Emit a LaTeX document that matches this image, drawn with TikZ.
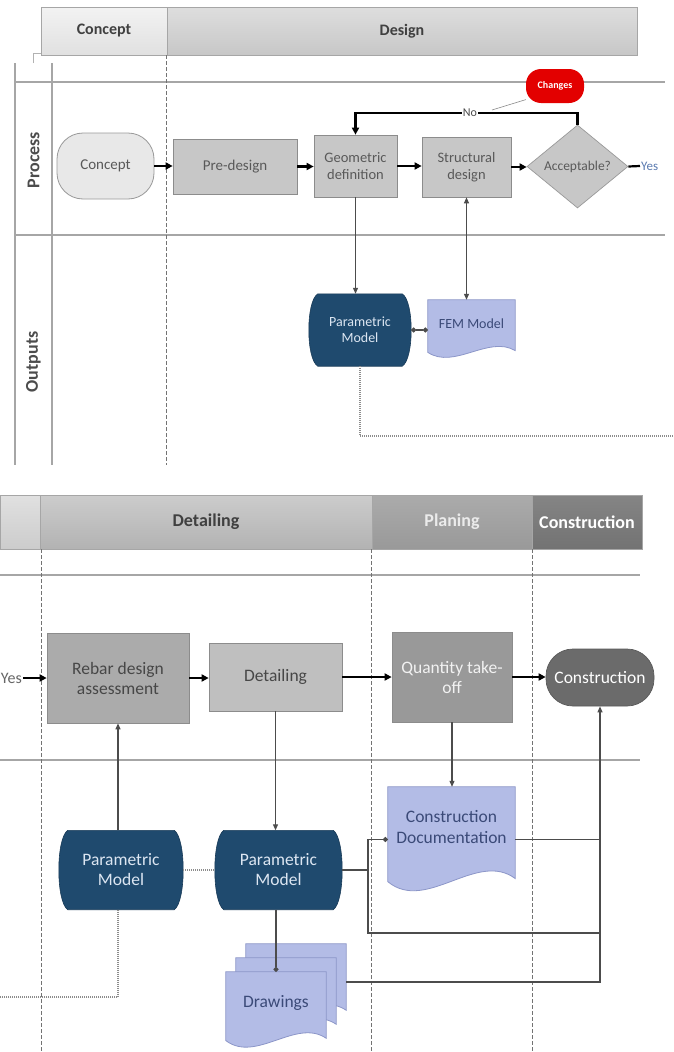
\documentclass[tikz,border=0pt]{standalone}
\usepackage{fontspec}
\setmainfont{Carlito}
\usetikzlibrary{arrows.meta,shapes.geometric,calc}
\pgfdeclarelayer{bg}
\pgfsetlayers{bg,main}
\definecolor{pmblue}{HTML}{1F4A6E}
\definecolor{pmtext}{HTML}{DCE6F2}
\definecolor{docfill}{HTML}{B3BCE6}
\definecolor{docline}{HTML}{8C96C8}
\definecolor{doctext}{HTML}{3B4A78}
\definecolor{changesred}{HTML}{E30000}
\definecolor{yesblue}{HTML}{5A7AB0}
\tikzset{
 hdr/.style={draw=black!35, line width=0.6pt, inner sep=0pt, text=black!75, font=\bfseries\fontsize{16}{18}\selectfont},
 hdrb/.style={hdr, minimum height=54, font=\bfseries\fontsize{18}{20}\selectfont},
 laneline/.style={draw=black!35, line width=1.2pt},
 framedash/.style={draw=black!55, line width=0.6pt, dash pattern=on 4pt off 2pt},
 procbox/.style={rectangle, draw=black!45, fill=black!22, line width=0.7pt, text=black!65, align=center, inner sep=1pt, font=\fontsize{15}{17}\selectfont},
 procboxb/.style={procbox, font=\fontsize{17.5}{20}\selectfont, text=black!72},
 conceptnode/.style={rectangle, rounded corners=26pt, minimum width=97, minimum height=66, fill=black!9, draw=black!40, line width=0.8pt, text=black!65, font=\fontsize{15}{17}\selectfont},
 pmnode/.style={rectangle, draw=none, text=pmtext, align=center, inner sep=1pt},
 pmbody/.style={fill=pmblue, draw=pmblue!80!black, line width=0.6pt},
 docnode/.style={rectangle, draw=none, inner sep=0pt},
 docbody/.style={fill=docfill, draw=docline, line width=0.8pt},
 doctxt/.style={text=doctext, align=center, inner sep=0pt},
 flowarrow/.style={draw=black, line width=2.2pt, -{Triangle[length=7pt,width=7pt]}},
 linkline/.style={draw=black!70, line width=1.1pt},
 linkarrow/.style={linkline, -{Triangle[length=6pt,width=5pt]}},
 dotlink/.style={draw=black!45, line width=1.3pt, dash pattern=on 1pt off 1pt},
}
\newcommand\docshape[1]{%
\path[docbody] let \p1=(#1.north west), \p2=(#1.south east), \n1={\x2-\x1}, \n2={\y1-\y2} in
(\x1,\y1) -- (\x2,\y1) -- (\x2,\y2+0.13*\n2) .. controls (\x2-0.3*\n1,\y2+0.4*\n2) and (\x1+0.3*\n1,\y2-0.2*\n2) .. (\x1,\y2+0.1*\n2) -- cycle;}
\newcommand\pmshape[1]{%
\path[pmbody] let \p1=(#1.north west), \p2=(#1.south east), \n2={\y1-\y2} in
(\x1+9pt,\y1) -- (\x2-9pt,\y1) .. controls (\x2+3pt,\y1-0.1*\n2) and (\x2+3pt,\y2+0.1*\n2) .. (\x2-9pt,\y2) -- (\x1+9pt,\y2) .. controls (\x1-3pt,\y2+0.1*\n2) and (\x1-3pt,\y1-0.1*\n2) .. (\x1+9pt,\y1) -- cycle;}
\begin{document}
\begin{tikzpicture}[x=1pt,y=-1pt]
\begin{pgfonlayer}{bg}
\fill[white] (0,0) rectangle (673,1052);
\end{pgfonlayer}
\path[use as bounding box] (0,0) rectangle (673,1052);

% ---------- top panel ----------
\node[hdr, top color=black!5, bottom color=black!12, minimum width=126, minimum height=48] (hconcept) at (104,31) {Concept};
\node[hdr, top color=black!13, bottom color=black!22, minimum width=470, minimum height=48] (hdesign) at (402,31) {Design};
\draw[draw=black!30, line width=0.6pt] (33,63) -- (33,53) -- (41,53);
\draw[laneline] (15,63) -- (15,465);
\draw[laneline] (52,63) -- (52,465);
\draw[laneline] (15,82) -- (665,82);
\draw[laneline] (15,235) -- (665,235);
\draw[framedash] (166,55) -- (166,465);
\node[rotate=90, text=black!70, font=\bfseries\fontsize{18}{20}\selectfont] (lproc) at (33.5,160) {Process};
\node[rotate=90, text=black!70, font=\bfseries\fontsize{18}{20}\selectfont] (lout) at (33.5,362) {Outputs};

\node[conceptnode] (concept) at (105.5,166) {Concept};
\node[procbox, minimum width=124, minimum height=55] (predesign) at (235,166.5) {Pre-design};
\node[procbox, minimum width=83, minimum height=62, font=\fontsize{14.5}{16.5}\selectfont] (geo) at (355.5,166) {Geometric\\definition};
\node[procbox, minimum width=89, minimum height=60, font=\fontsize{14.5}{16.5}\selectfont] (struct) at (466.5,167) {Structural\\design};
\node[diamond, draw=black!40, fill=black!22, line width=0.7pt, minimum width=101, minimum height=83, inner sep=0pt, text=black!65, font=\fontsize{13.5}{15}\selectfont] (accept) at (577.5,166.5) {Acceptable?};
\node[rectangle, rounded corners=15pt, fill=changesred, minimum width=58, minimum height=34, text=white, font=\bfseries\fontsize{10}{11}\selectfont] (changes) at (555,86) {Changes};
\node[anchor=west, text=yesblue, inner sep=1pt, font=\fontsize{13}{15}\selectfont] (yestop) at (640,166) {Yes};

\node[pmnode, minimum width=102, minimum height=72, font=\fontsize{14}{16}\selectfont] (pm0) at (360,330) {Parametric\\Model};
\node[docnode, minimum width=87, minimum height=58] (fem) at (471.5,329) {};
\begin{pgfonlayer}{bg}\pmshape{pm0}\docshape{fem}\end{pgfonlayer}
\node[doctxt, font=\fontsize{14}{16}\selectfont] (femtext) at (471.5,324) {FEM Model};

\draw[flowarrow] (concept.east) -- (concept.east -| predesign.west);
\draw[flowarrow] (predesign.east) -- (predesign.east -| geo.west);
\draw[flowarrow] (geo.east) -- (geo.east -| struct.west);
\draw[flowarrow] (struct.east) -- (struct.east -| accept.west);
\draw[draw=black, line width=2.2pt] (accept.east) -- (yestop.west);
\coordinate (nopt) at (470,113);
\draw[flowarrow] (accept.north) -- (accept.north |- nopt) -- (geo.north |- nopt) -- (geo.north);
\node[fill=white, inner sep=1pt, text=black!70, font=\fontsize{12}{14}\selectfont] (nolbl) at (nopt) {No};
\coordinate (callend) at (492,110);
\draw[draw=black!45, line width=0.6pt] (changes.205) -- (callend);

\draw[linkarrow] (geo.south) -- (geo.south |- pm0.north);
\draw[linkline, {Triangle[length=6pt,width=5pt]}-{Triangle[length=6pt,width=5pt]}] (struct.south) -- (struct.south |- fem.north);
\draw[linkline, {Circle[length=5pt]}-{Circle[length=5pt]}] (pm0.east) -- (pm0.east -| fem.west);
\coordinate (dotend1) at (673,436);
\draw[dotlink] (pm0.south) |- (dotend1);

% ---------- bottom panel ----------
\node[hdrb, top color=black!12, bottom color=black!20, minimum width=40] (hleft) at (20,522) {};
\node[hdrb, top color=black!20, bottom color=black!30, minimum width=332] (hdetail) at (206,522) {Detailing};
\node[hdrb, top color=black!33, bottom color=black!40, text=white!92!black, minimum width=160] (hplan) at (452,522) {Planing};
\node[hdrb, top color=black!48, bottom color=black!55, text=white, minimum width=110] (hcons) at (587,522) {Construction};
\draw[laneline] (0,575) -- (640,575);
\draw[laneline] (0,760) -- (640,760);
\draw[framedash] (41,549) -- (41,1052);
\draw[framedash] (371,549) -- (371,1052);
\draw[framedash] (532,549) -- (532,1052);

\node[anchor=east, text=black!60, inner sep=1pt, font=\fontsize{16}{18}\selectfont] (yesbot) at (23,678) {Yes};
\node[procboxb, fill=black!33, minimum width=142, minimum height=90] (rebar) at (118,678) {Rebar design\\assessment};
\node[procboxb, fill=black!25, minimum width=133, minimum height=68] (detbox) at (275.5,677) {Detailing};
\node[procboxb, fill=black!40, text=white!95!black, minimum width=120, minimum height=90] (qty) at (452,677) {Quantity take-\\off};
\node[rectangle, rounded corners=27pt, minimum width=108, minimum height=57, fill=black!58, draw=black!65, line width=0.7pt, text=white, font=\fontsize{17.5}{19}\selectfont] (cons) at (600,677.5) {Construction};

\node[pmnode, minimum width=124, minimum height=79, font=\fontsize{17.5}{20}\selectfont] (pm1) at (121,870) {Parametric\\Model};
\node[pmnode, minimum width=127, minimum height=79, font=\fontsize{17.5}{20}\selectfont] (pm2) at (278.5,870) {Parametric\\Model};

\node[docnode, minimum width=127, minimum height=105] (cdoc) at (451.5,839.5) {};
\node[docnode, minimum width=100, minimum height=76] (drawback) at (296,982) {};
\node[docnode, minimum width=100, minimum height=76] (drawmid) at (286,996) {};
\node[docnode, minimum width=100, minimum height=76] (drawfront) at (276,1010) {};
\begin{pgfonlayer}{bg}
\pmshape{pm1}
\pmshape{pm2}
\docshape{cdoc}
\docshape{drawback}
\docshape{drawmid}
\docshape{drawfront}
\end{pgfonlayer}
\node[doctxt, font=\fontsize{17.5}{21}\selectfont] (cdoctext) at (451.5,827) {Construction\\Documentation};
\node[doctxt, font=\fontsize{17.5}{20}\selectfont] (drawtext) at (276,1003) {Drawings};

\draw[flowarrow] (yesbot.east) -- (rebar.west);
\draw[flowarrow] (rebar.east) -- (rebar.east -| detbox.west);
\draw[flowarrow] (detbox.east) -- (detbox.east -| qty.west);
\draw[flowarrow] (qty.east) -- (qty.east -| cons.west);

\draw[linkarrow] (rebar.south |- pm1.north) -- (rebar.south);
\draw[linkarrow] (detbox.south) -- (detbox.south |- pm2.north);
\draw[dotlink] (pm1.east) -- (pm2.west);
\coordinate (dotend2) at (0,997);
\draw[dotlink] (rebar.south |- pm1.south) |- (dotend2);
\draw[linkarrow] (qty.south) -- (qty.south |- cdoc.north);

\coordinate (jx) at (368,933);
\draw[linkline, -{Circle[length=5pt]}] (pm2.east) -| (jx |- cdoc.west) -- (cdoc.west);
\draw[linkline] (pm2.east -| jx) -- (jx) -- (jx -| cons.south);
\draw[linkline] (cdoc.east) -- (cdoc.east -| cons.south);
\draw[linkarrow] (drawback.east) -| (cons.south);
\draw[linkline, -{Circle[length=5pt]}] (drawfront.north |- pm2.south) -- (drawfront.north);
\end{tikzpicture}
\end{document}
